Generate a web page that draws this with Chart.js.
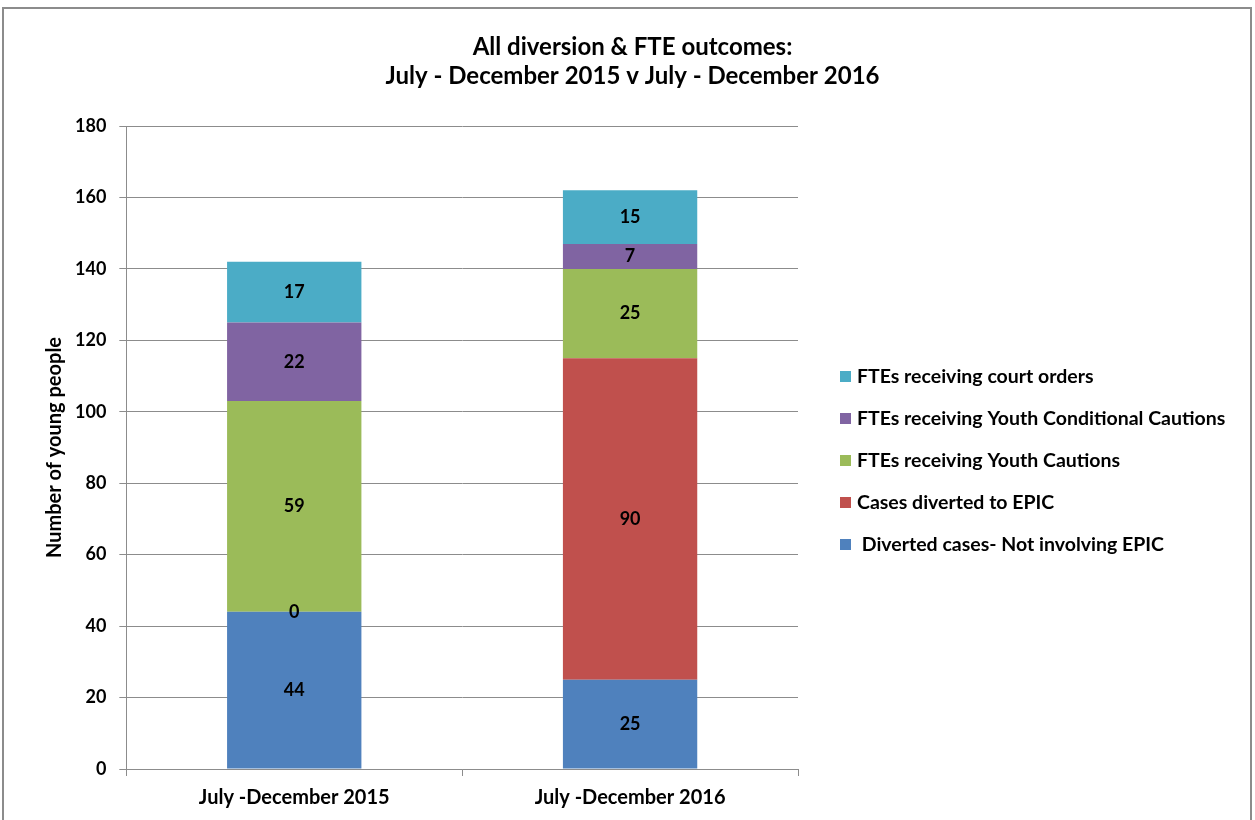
<!DOCTYPE html>
<html>
<head>
<meta charset="utf-8">
<script src="https://cdn.jsdelivr.net/npm/chart.js@4"></script>
<style>
  body { margin: 0; background: #fff; }
  #frame { position: absolute; left: 2px; top: 7px; width: 1246px; height: 820px; border: 2px solid #8c8c8c; border-bottom: none; pointer-events: none; }
  #outcomesChart { position: absolute; left: 0; top: 0; }
</style>
</head>
<body>
<canvas id="outcomesChart" width="1255" height="820"></canvas>
<div id="frame"></div>
<script>
// Categories
var periods = ["July -December 2015", "July -December 2016"];

// Series values
var notInvolvingEpic = [44, 25];
var divertedToEpic = [0, 90];
var youthCautions = [59, 25];
var conditionalCautions = [22, 7];
var courtOrders = [17, 15];

// Tick labels
var yTicks = [0, 20, 40, 60, 80, 100, 120, 140, 160, 180];

var titleLines = ["All diversion & FTE outcomes:", "July - December 2015 v July - December 2016"];

var fontFamily = "Lato, 'Noto Sans', sans-serif";

// writes each segment's value in its middle
var segmentLabels = {
    id: 'segmentLabels',
    afterDatasetsDraw: function (chart) {
        var ctx = chart.ctx;
        ctx.save();
        ctx.font = "bold 18px " + fontFamily;
        ctx.fillStyle = "#000";
        ctx.textAlign = "center";
        ctx.textBaseline = "middle";
        chart.data.datasets.forEach(function (ds, i) {
            var meta = chart.getDatasetMeta(i);
            meta.data.forEach(function (bar, j) {
                var mid = (bar.y + bar.base) / 2;
                ctx.fillText(ds.data[j], bar.x, mid);
            });
        });
        ctx.restore();
    }
};

// legend to the right of the plot, last series on top
// (the built-in one gets clipped to a quarter of the width)
// title is drawn here too so it centres on the whole picture, not the plot
var sideLegend = {
    id: 'sideLegend',
    afterDraw: function (chart) {
        var ctx = chart.ctx;
        var area = chart.chartArea;
        var sets = chart.data.datasets;
        var n = sets.length;
        var x = area.right + 42;
        var rowGap = 42;
        var midY = (area.top + area.bottom) / 2 + 13;
        ctx.save();
        ctx.font = "bold 19.5px " + fontFamily;
        ctx.textBaseline = "middle";
        ctx.textAlign = "left";
        for (var k = 0; k < n; k++) {
            var ds = sets[n - 1 - k];
            var y = midY + (k - (n - 1) / 2) * rowGap;
            ctx.fillStyle = ds.backgroundColor;
            ctx.fillRect(x, y - 5.5, 11, 11);
            ctx.fillStyle = "#000";
            ctx.fillText(ds.label, x + 17, y);
        }

        ctx.font = "bold 24px " + fontFamily;
        ctx.textAlign = "center";
        titleLines.forEach(function (line, i) {
            ctx.fillText(line, chart.width / 2 + 5, 47 + i * 29);
        });
        ctx.restore();
    }
};

var ctx = document.getElementById("outcomesChart");

var outcomesChart = new Chart(ctx, {
    type: 'bar',
    data: {
        labels: periods,
        datasets: [
            { label: " Diverted cases- Not involving EPIC", data: notInvolvingEpic, backgroundColor: "#4F81BD", borderWidth: 0 },
            { label: "Cases diverted to EPIC", data: divertedToEpic, backgroundColor: "#C0504D", borderWidth: 0 },
            { label: "FTEs receiving Youth Cautions", data: youthCautions, backgroundColor: "#9BBB59", borderWidth: 0 },
            { label: "FTEs receiving Youth Conditional Cautions", data: conditionalCautions, backgroundColor: "#8064A2", borderWidth: 0 },
            { label: "FTEs receiving court orders", data: courtOrders, backgroundColor: "#4BACC6", borderWidth: 0 }
        ]
    },
    options: {
        responsive: false,
        animation: false,
        devicePixelRatio: 1,
        categoryPercentage: 0.8,
        barPercentage: 0.5,
        layout: { padding: { top: 126, left: 38, right: 457, bottom: 0 } },
        plugins: {
            title: { display: false },
            legend: { display: false },
            tooltip: { enabled: false }
        },
        scales: {
            x: {
                stacked: true,
                grid: { drawOnChartArea: false, drawTicks: true, tickLength: 7, color: "#8c8c8c" },
                border: { color: "#8c8c8c" },
                ticks: { color: "#000", padding: 10, font: { family: fontFamily, size: 20, weight: "bold" } }
            },
            y: {
                stacked: true,
                min: 0,
                max: 180,
                afterBuildTicks: function (axis) {
                    axis.ticks = yTicks.map(function (v) { return { value: v }; });
                },
                grid: { color: "#8c8c8c", tickLength: 7 },
                border: { color: "#8c8c8c" },
                ticks: { color: "#000", padding: 13, font: { family: fontFamily, size: 18, weight: "bold" } },
                title: {
                    display: true,
                    text: "Number of young people",
                    color: "#000",
                    font: { family: fontFamily, size: 20, weight: "bold" },
                    padding: { top: 5, bottom: -5 }
                }
            }
        }
    },
    plugins: [segmentLabels, sideLegend]
});
</script>
</body>
</html>
